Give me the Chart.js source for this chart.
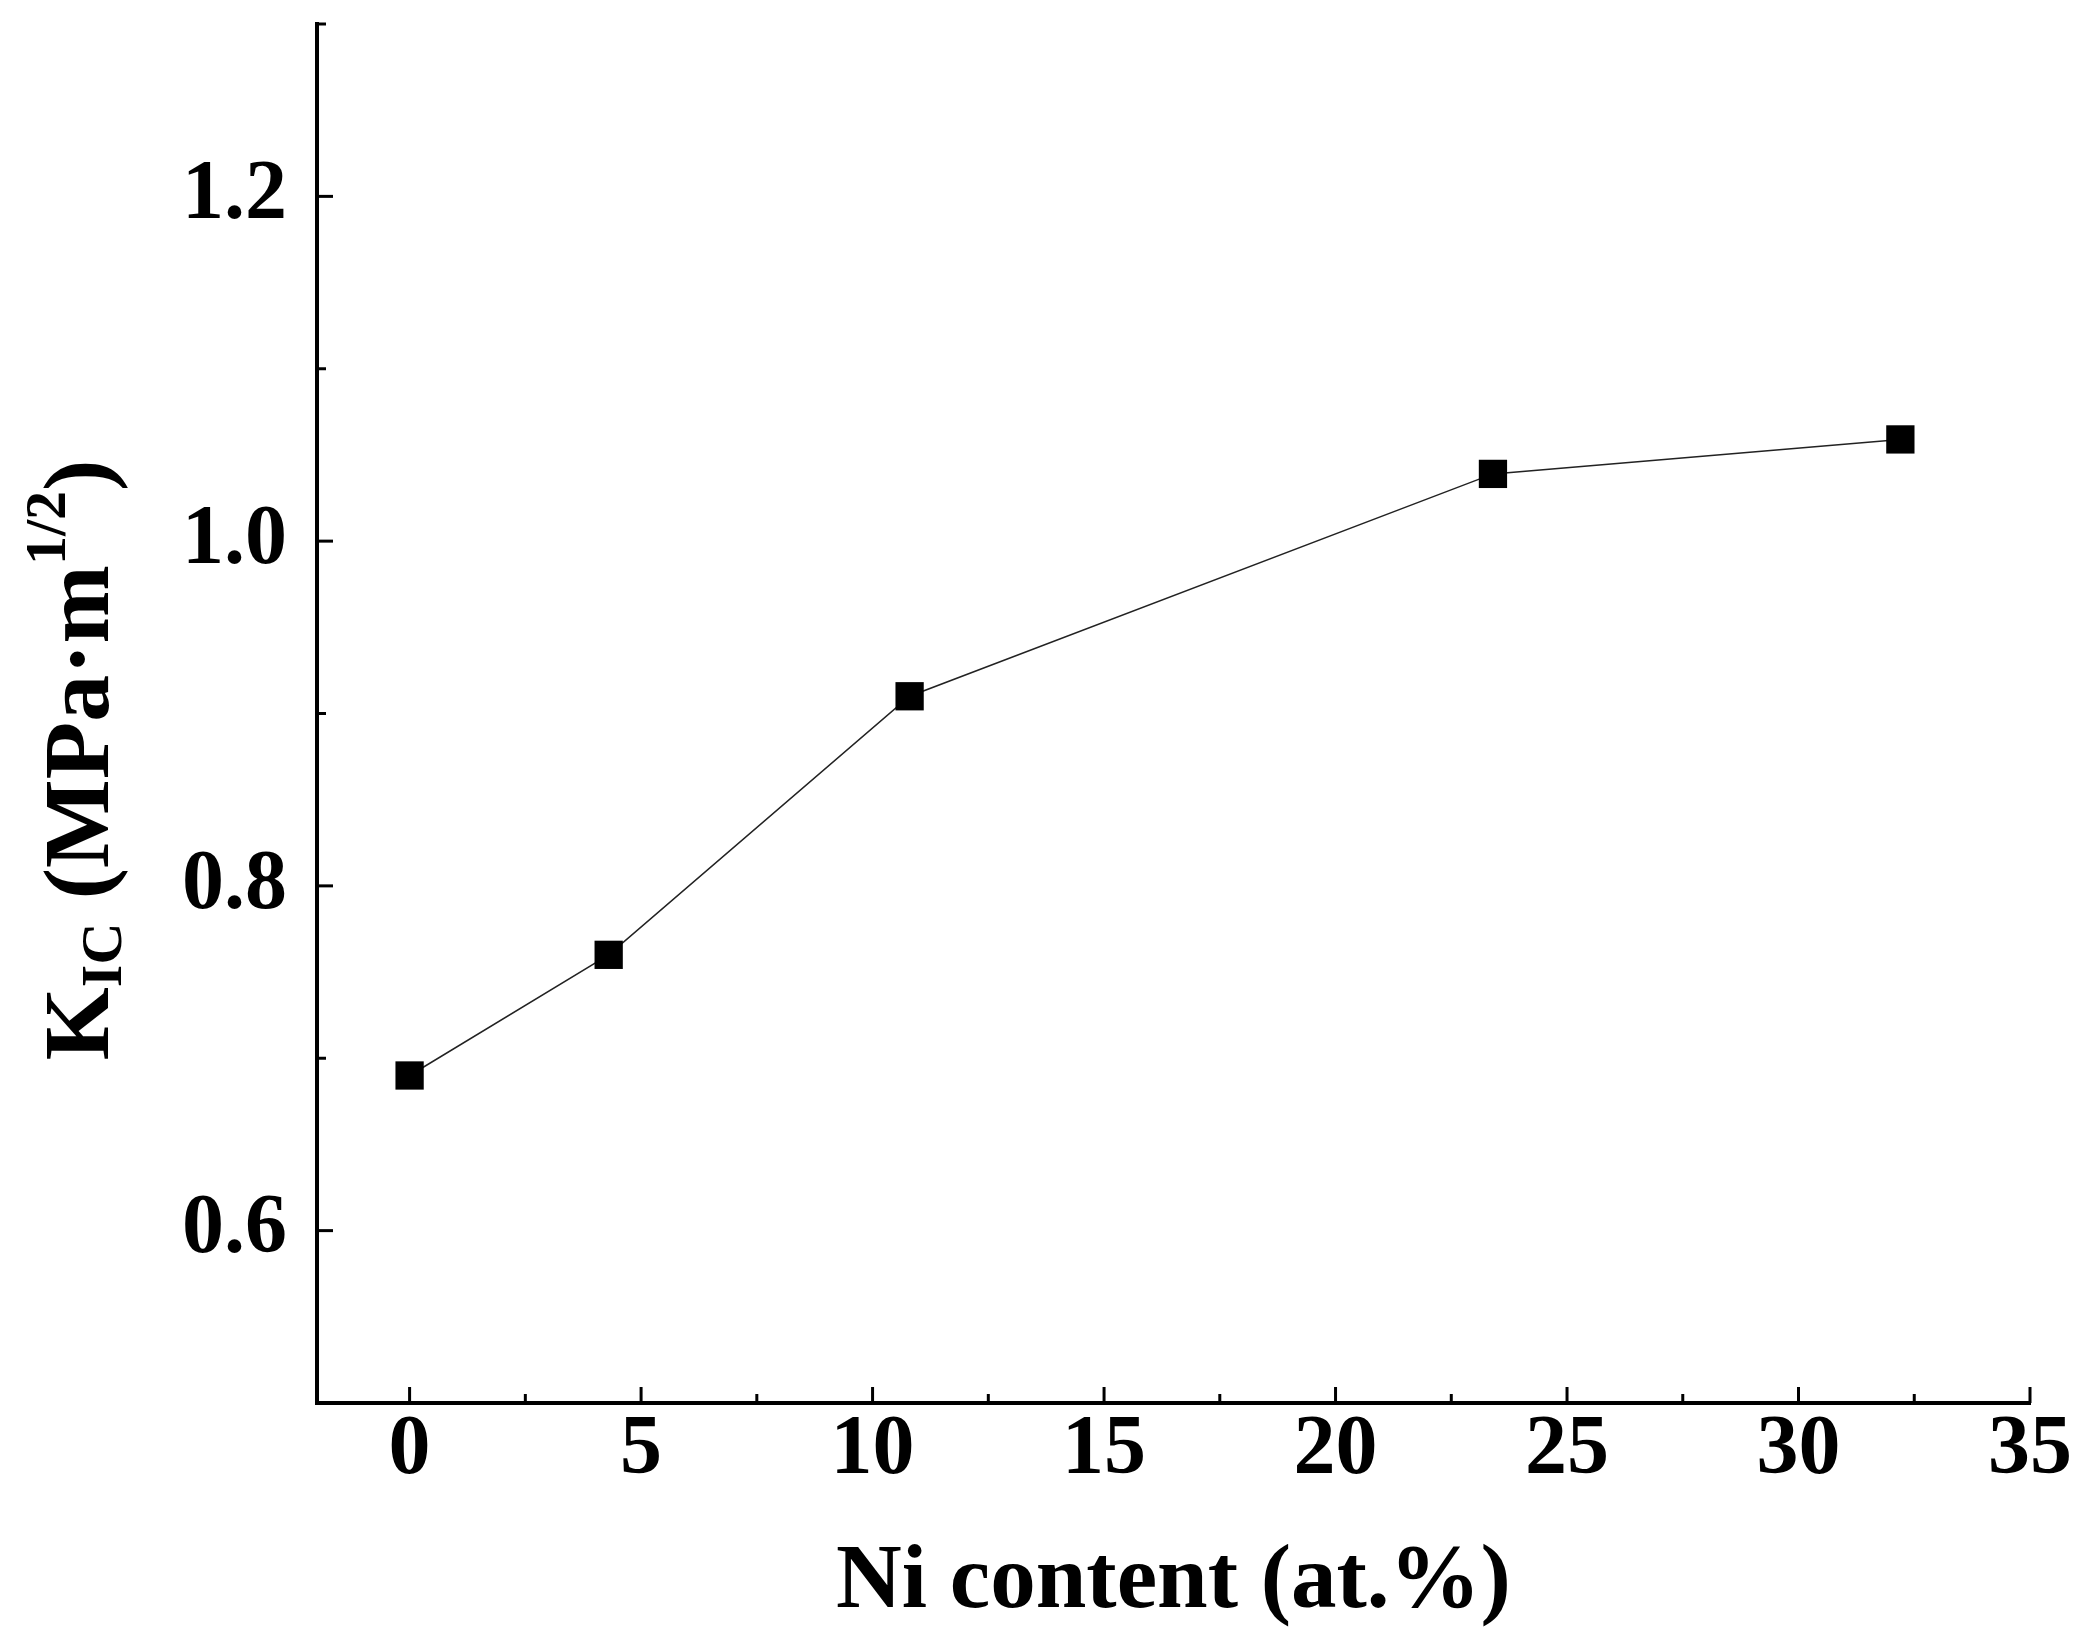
<!DOCTYPE html>
<html>
<head>
<meta charset="utf-8">
<script src="https://cdn.jsdelivr.net/npm/chart.js@4"></script>
<style>
  html, body { margin: 0; padding: 0; background: #fff; }
  #wrap { width: 2091px; height: 1641px; }
</style>
</head>
<body>
<div id="wrap"><canvas id="c" width="2091" height="1641"></canvas></div>
<script>
// data
let niContent = [0, 4.3, 10.8, 23.4, 32.2];
let kic = [0.69, 0.76, 0.91, 1.039, 1.059];
let xTicks = [0, 5, 10, 15, 20, 25, 30, 35];
let yTicks = [0.6, 0.8, 1.0, 1.2];

const FONT = '"Liberation Serif", "Times New Roman", serif';

// ticks inward, labels and titles drawn on top of the chart
const axesPlugin = {
    id: 'axesPlugin',
    afterDraw(chart) {
        let ctx = chart.ctx;
        let a = chart.chartArea;
        let xs = chart.scales.x, ys = chart.scales.y;
        ctx.save();
        ctx.strokeStyle = '#000';
        ctx.fillStyle = '#000';
        ctx.lineWidth = 3;

        // x ticks
        for (let v = 0; v <= 35; v += 2.5) {
            let px = xs.getPixelForValue(v);
            let major = v % 5 === 0;
            ctx.beginPath();
            ctx.moveTo(px, a.bottom);
            ctx.lineTo(px, a.bottom - (major ? 16 : 9));
            ctx.stroke();
        }
        // y ticks
        for (let i = 5; i <= 13; i++) {
            let v = i / 10;
            let py = ys.getPixelForValue(v);
            let major = i % 2 === 0;
            ctx.beginPath();
            ctx.moveTo(a.left, py);
            ctx.lineTo(a.left + (major ? 16 : 9), py);
            ctx.stroke();
        }

        ctx.font = 'bold 84px ' + FONT;
        ctx.textAlign = 'center';
        ctx.textBaseline = 'middle';
        xTicks.forEach(v => ctx.fillText(String(v), xs.getPixelForValue(v), a.bottom + 48));
        ctx.textAlign = 'right';
        yTicks.forEach(v => ctx.fillText(v.toFixed(1), a.left - 30, ys.getPixelForValue(v)));

        // x title
        ctx.textAlign = 'center';
        ctx.font = 'bold 91px ' + FONT;
        ctx.fillText('Ni content (at.%)', (a.left + a.right) / 2, 1583);

        // y title: K_IC (MPa·m^1/2)
        ctx.translate(84, 760);
        ctx.rotate(-Math.PI / 2);
        let parts = [
            { t: 'K', f: 'bold 94px ', dy: 0 },
            { t: 'IC', f: 'bold 58px ', dy: 22 },
            { t: ' (MPa\u00b7m', f: 'bold 94px ', dy: 0 },
            { t: '1/2', f: 'bold 58px ', dy: -34 },
            { t: ')', f: 'bold 94px ', dy: 0 }
        ];
        let total = 0;
        parts.forEach(p => { ctx.font = p.f + FONT; p.w = ctx.measureText(p.t).width; total += p.w; });
        let x0 = -total / 2;
        ctx.textAlign = 'left';
        parts.forEach(p => {
            ctx.font = p.f + FONT;
            ctx.fillText(p.t, x0, p.dy);
            x0 += p.w;
        });
        ctx.restore();
    }
};

new Chart(document.getElementById('c').getContext('2d'), {
    type: 'line',
    data: {
        datasets: [{
            data: niContent.map((x, i) => ({ x: x, y: kic[i] })),
            borderColor: '#222',
            borderWidth: 1.5,
            backgroundColor: '#000',
            pointStyle: 'rect',
            pointRadius: 20,
            pointBorderWidth: 0,
            tension: 0
        }]
    },
    options: {
        responsive: false,
        animation: false,
        layout: { padding: { left: 317, right: 61, top: 24, bottom: 238 } },
        plugins: { legend: { display: false }, tooltip: { enabled: false } },
        scales: {
            x: {
                type: 'linear', min: -2, max: 35,
                grid: { display: false },
                border: { display: true, color: '#000', width: 4 },
                ticks: { display: false },
                afterFit(s) { s.height = 0; }
            },
            y: {
                type: 'linear', min: 0.5, max: 1.3,
                grid: { display: false },
                border: { display: true, color: '#000', width: 4 },
                ticks: { display: false },
                afterFit(s) { s.width = 0; }
            }
        }
    },
    plugins: [axesPlugin]
});
</script>
</body>
</html>
